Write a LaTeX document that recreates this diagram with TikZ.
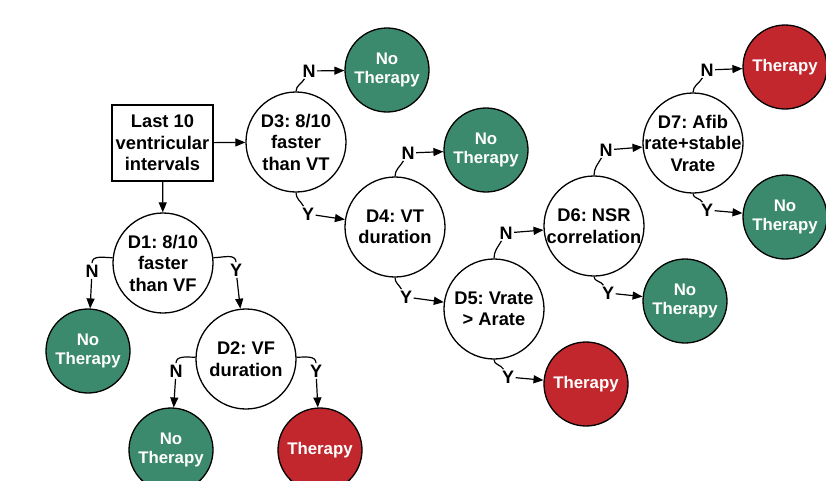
\documentclass[tikz,border=0pt]{standalone}
\usepackage{fontspec}
\setmainfont{Liberation Sans}
\usetikzlibrary{arrows.meta}
\definecolor{tgreen}{HTML}{3B8A6D}
\definecolor{tred}{HTML}{C1272D}
\tikzset{
  dec/.style={circle, draw, line width=1.3pt, minimum size=100pt, inner sep=0pt, fill=white},
  dtext/.style={align=center, font=\fontsize{18.3}{21.5}\selectfont\bfseries, inner sep=0pt},
  outc/.style={circle, draw, line width=1.3pt, minimum size=84pt, inner sep=0pt, text=white, align=center, font=\fontsize{16.8}{19.5}\selectfont\bfseries},
  nothx/.style={outc, fill=tgreen},
  thx/.style={outc, fill=tred},
  startbox/.style={draw, line width=1.3pt, minimum width=101pt, minimum height=76pt, inner sep=0pt, align=center, font=\fontsize{18.3}{21.5}\selectfont\bfseries},
  lbl/.style={font=\fontsize{18}{20}\selectfont\bfseries, inner sep=1.5pt},
  ln/.style={line width=1.2pt},
  arr/.style={line width=1.2pt, -{Triangle[length=10pt,width=8pt]}}
}
\begin{document}
\frenchspacing
\begin{tikzpicture}[x=1pt,y=1pt]
\useasboundingbox (0,0) rectangle (826,-480);
\clip (0,0) rectangle (826,-480);
% start box
\node[startbox] (S) at (162.5,-143) {Last 10\\ventricular\\intervals};
% decisions
\node[dec, label={[dtext]center:{D1: 8/10\\faster\\than VF}}] (D1) at (163,-263) {};
\node[dec, label={[dtext]center:{D2: VF\\duration}}] (D2) at (246,-359) {};
\node[dec, label={[dtext]center:{D3: 8/10\\faster\\than VT}}] (D3) at (296,-142) {};
\node[dec, label={[dtext]center:{D4: VT\\duration}}] (D4) at (395,-227) {};
\node[dec, label={[dtext]center:{D5: Vrate\\> Arate}}] (D5) at (494,-309) {};
\node[dec, label={[dtext]center:{D6: NSR\\correlation}}] (D6) at (594,-226) {};
\node[dec, label={[dtext]center:{D7: Afib\\rate+stable\\Vrate}}] (D7) at (693,-143) {};
% outcomes
\node[nothx] (O1) at (88,-351) {No\\Therapy};
\node[nothx] (O2) at (171,-450) {No\\Therapy};
\node[thx] (O3) at (320,-450) {Therapy};
\node[nothx] (O4) at (387,-70) {No\\Therapy};
\node[nothx] (O5) at (486,-150) {No\\Therapy};
\node[thx] (O6) at (586,-384) {Therapy};
\node[nothx] (O7) at (685,-301) {No\\Therapy};
\node[thx] (O8) at (785,-67) {Therapy};
\node[nothx] (O9) at (785,-217) {No\\Therapy};
% labels
\node[lbl] (n1) at (92,-271) {N};
\node[lbl] (y1) at (236,-270) {Y};
\node[lbl] (n2) at (176,-371) {N};
\node[lbl] (y2) at (316,-371) {Y};
\node[lbl] (n3) at (309,-71) {N};
\node[lbl] (y3) at (308,-214) {Y};
\node[lbl] (n4) at (408,-153) {N};
\node[lbl] (y4) at (406,-297) {Y};
\node[lbl] (n5) at (506,-233) {N};
\node[lbl] (y5) at (508,-377) {Y};
\node[lbl] (n6) at (606,-150) {N};
\node[lbl] (y6) at (608,-293) {Y};
\node[lbl] (n7) at (707,-70) {N};
\node[lbl] (y7) at (707,-210) {Y};
% connectors
\draw[arr] (S) -- (D3);
\draw[arr] (S) -- (D1);
\draw[ln] (D1.174) to[out=180,in=90] (n1);
\draw[arr] (n1) -- (O1);
\draw[ln] (D1.6) to[out=0,in=90] (y1);
\draw[arr] (y1) -- (D2);
\draw[ln] (D2.178) to[out=180,in=90] (n2);
\draw[arr] (n2) -- (O2);
\draw[ln] (D2.2) to[out=0,in=90] (y2);
\draw[arr] (y2) -- (O3);
\draw[ln] (D3.north) to[out=90,in=-120] (n3);
\draw[arr] (n3) -- (O4);
\draw[ln] (D3.south) to[out=-90,in=120] (y3);
\draw[arr] (y3) -- (D4);
\draw[ln] (D4.north) to[out=90,in=-120] (n4);
\draw[arr] (n4) -- (O5);
\draw[ln] (D4.south) to[out=-90,in=120] (y4);
\draw[arr] (y4) -- (D5);
\draw[ln] (D5.north) to[out=90,in=-120] (n5);
\draw[arr] (n5) -- (D6);
\draw[ln] (D5.south) to[out=-90,in=120] (y5);
\draw[arr] (y5) -- (O6);
\draw[ln] (D6.north) to[out=90,in=-120] (n6);
\draw[arr] (n6) -- (D7);
\draw[ln] (D6.south) to[out=-90,in=120] (y6);
\draw[arr] (y6) -- (O7);
\draw[ln] (D7.north) to[out=90,in=-120] (n7);
\draw[arr] (n7) -- (O8);
\draw[ln] (D7.south) to[out=-90,in=120] (y7);
\draw[arr] (y7) -- (O9);
\end{tikzpicture}
\end{document}
